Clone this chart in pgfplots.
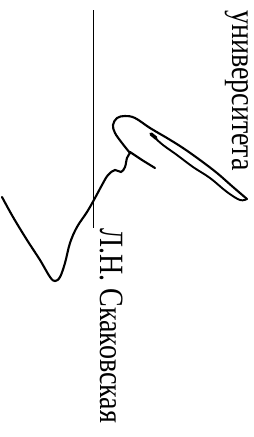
\documentclass[border=0pt]{standalone}
\usepackage{fontspec}
\setmainfont{Liberation Serif}
\usepackage{pgfplots}
\pgfplotsset{compat=1.18}
\begin{document}
\begin{tikzpicture}
\begin{axis}[
  width=254pt, height=437pt, scale only axis,
  xmin=0, xmax=254, ymin=0, ymax=437, y dir=reverse,
  hide axis, clip=false,
]
% signature line
\addplot[black, line width=1.5pt] coordinates {(93.5,10) (93.5,228)};
% signature strokes
\addplot[black, line width=2.1pt, smooth, tension=0.6, line cap=round] coordinates {
(2,197) (13,217) (27,240) (40,260) (50,277) (55,281) (60,277) (65,263) (70,243) (77,227) (87,212) (95,198) (102,185) (108,175) (115,170) (121,172) (125,167) (127,158) (130,153)};
\addplot[black, line width=2.1pt, smooth, tension=0.6, line cap=round] coordinates {
(130,153) (122,143) (115,133) (113,125) (117,118) (125,116) (135,118) (150,128) (167,138) (183,148) (200,160) (217,173) (233,187) (247,199)};
\addplot[black, line width=1.9pt, smooth, tension=0.6, line cap=round] coordinates {
(247,199) (240,200) (227,192) (210,178) (193,167) (177,155) (163,145) (154,137)};
\addplot[black, line width=3.5pt, line cap=round] coordinates {(151,134) (156,138)};
\addplot[black, line width=2.1pt, line cap=round] coordinates {(130,152) (142,160) (155,168)};
% texts
\node[rotate=-90, anchor=base west, inner sep=0pt, font=\fontsize{34}{40}\selectfont] at (axis cs:232.5,10) {\scalebox{0.825}[1]{университета}};
\node[rotate=-90, anchor=base west, inner sep=0pt, font=\fontsize{34}{40}\selectfont] at (axis cs:100.5,228) {\scalebox{0.825}[1]{Л.Н. Скаковская}};
\end{axis}
\pgfresetboundingbox
\path (current axis.south west) rectangle (current axis.north east);
\end{tikzpicture}
\end{document}
